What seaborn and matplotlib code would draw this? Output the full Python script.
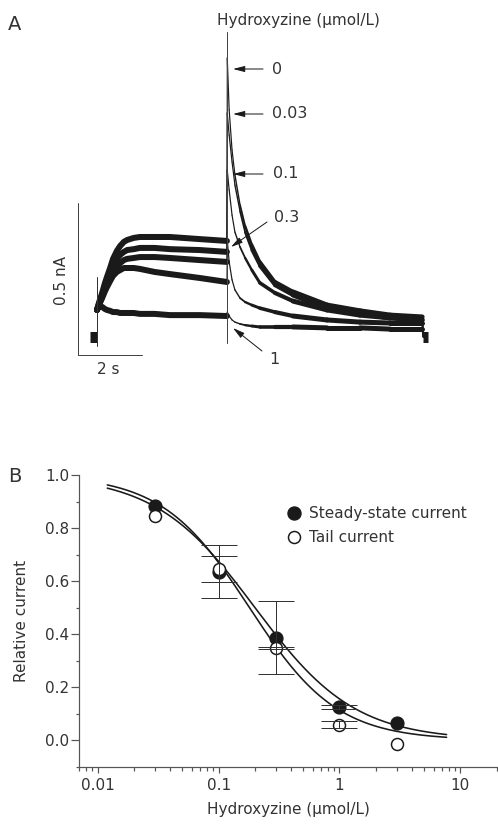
import numpy as np
import pandas as pd
import matplotlib
matplotlib.use("Agg")
import matplotlib.pyplot as plt
import seaborn as sns
from matplotlib.lines import Line2D
from matplotlib.ticker import MultipleLocator, FixedLocator, LogLocator, NullFormatter

sns.set_theme(style="ticks")
plt.rcParams['font.family'] = ['DejaVu Sans']

W, H = 498, 824
INK = "#1a1a1a"
TXT = "#333333"

# --- panel A: current traces (time in s from step onset, current in nA) ---
concs_a = ["0", "0.03", "0.1", "0.3", "1"]
step_t = [0, 0.06, 0.16, 0.25, 0.31, 0.41, 0.5, 0.62, 0.72, 0.84, 0.94, 1.15, 1.34, 1.8, 2.28, 3.22, 4.06]
step_i = {
    "0":    [0.089, 0.112, 0.145, 0.178, 0.197, 0.227, 0.257, 0.283, 0.299, 0.313, 0.319,
             0.326, 0.329, 0.329, 0.329, 0.322, 0.316],
    "0.03": [0.089, 0.109, 0.138, 0.164, 0.184, 0.211, 0.234, 0.257, 0.270, 0.280, 0.286,
             0.289, 0.293, 0.293, 0.289, 0.286, 0.280],
    "0.1":  [0.089, 0.105, 0.132, 0.155, 0.171, 0.191, 0.211, 0.230, 0.243, 0.253, 0.257,
             0.260, 0.263, 0.263, 0.260, 0.253, 0.247],
    "0.3":  [0.089, 0.105, 0.128, 0.151, 0.164, 0.184, 0.201, 0.214, 0.220, 0.227, 0.227,
             0.227, 0.224, 0.214, 0.207, 0.194, 0.181],
    "1":    [0.089, 0.102, 0.099, 0.092, 0.089, 0.086, 0.082, 0.082, 0.079, 0.079, 0.079,
             0.079, 0.076, 0.076, 0.072, 0.072, 0.069],
}
tail_t = [4.07, 4.13, 4.22, 4.31, 4.47, 4.63, 4.84, 5.09, 5.56, 6.13, 7.19, 8.22, 9.16, 10.16]
tail_i = {
    "0":    [0.918, 0.747, 0.615, 0.533, 0.434, 0.365, 0.303, 0.247, 0.181, 0.148, 0.105, 0.086, 0.072, 0.066],
    "0.03": [0.737, 0.664, 0.576, 0.500, 0.414, 0.345, 0.286, 0.234, 0.171, 0.138, 0.095, 0.076, 0.063, 0.056],
    "0.1":  [0.549, 0.484, 0.401, 0.345, 0.296, 0.260, 0.220, 0.178, 0.145, 0.118, 0.089, 0.072, 0.063, 0.056],
    "0.3":  [0.319, 0.247, 0.188, 0.155, 0.128, 0.115, 0.105, 0.095, 0.082, 0.069, 0.056, 0.049, 0.046, 0.046],
    "1":    [0.082, 0.069, 0.056, 0.049, 0.043, 0.039, 0.036, 0.033, 0.033, 0.033, 0.030, 0.030, 0.026, 0.026],
}
hold_t = [-0.22, 0.0]
end_t = [10.20, 10.34]
onset_spike = (-0.03, 0.197)      # nA, capacitive transient at step onset
tail_spike = (-0.02, 1.003)
scale_t, scale_i = 2, 0.5
scale_corner = (-0.59, -0.059)

# --- panel B: concentration-response ---
conc = [0.03, 0.1, 0.3, 1, 3]
steady = [0.883, 0.635, 0.387, 0.126, 0.063]
steady_err = [0, 0.10, 0.137, 0.007, 0]
tail = [0.847, 0.645, 0.348, 0.059, -0.013]
tail_err = [0, 0.05, 0.004, 0.014, 0]
fit_range = (0.012, 7.7)
steady_fit = (0.20, 1.05)   # IC50, Hill coefficient
tail_fit = (0.18, 1.20)


def fpx(x, y):
    return x / W, 1 - y / H


def pt(px):
    return px * 0.72


fig = plt.figure(figsize=(W / 100, H / 100), dpi=100)

# ================= A =================
axa = fig.add_axes([0, 1 - 400 / H, 1, 400 / H])
axa.set_xlim(-97 / 32, (W - 97) / 32)
axa.set_ylim((337 - 400) / 304, 337 / 304)
axa.axis("off")

steps = pd.concat([pd.DataFrame({"t": step_t, "I": step_i[c], "conc": c}) for c in concs_a])
sns.lineplot(data=steps, x="t", y="I", units="conc", estimator=None, sort=False,
             color=INK, lw=pt(6), ax=axa, legend=False, solid_capstyle="round")

tail_lw = [1.2, 1.2, 1.2, 1.4, 1.8, 2.4, 3, 3.6, 4.2, 5, 5, 5, 5]
for c in concs_a:
    # jump from step end to tail peak
    axa.plot([step_t[-1], tail_t[0]], [step_i[c][-1], tail_i[c][0]], color=INK, lw=pt(1))
    for k in range(len(tail_t) - 1):
        axa.plot(tail_t[k:k + 2], tail_i[c][k:k + 2], color=INK, lw=pt(tail_lw[k]),
                 solid_capstyle="round")
    axa.plot([tail_t[-1], end_t[0]], [tail_i[c][-1], 0], color=INK, lw=pt(1.5))

axa.plot(hold_t, [0, 0], color=INK, lw=pt(11), solid_capstyle="butt")
axa.plot(end_t, [0, 0], color=INK, lw=pt(11), solid_capstyle="butt")
axa.plot([0, 0], list(onset_spike), color="#333333", lw=pt(1))
axa.plot([tail_t[0], tail_t[0]], list(tail_spike), color="#444444", lw=pt(1))

# scale bars
cx, cy = scale_corner
axa.plot([cx, cx, cx + scale_t], [cy + scale_i, cy, cy], color="#444444", lw=pt(1))

fig.text(*fpx(15, 25), "A", fontsize=14, color=TXT, ha="center", va="center")
fig.text(*fpx(298, 20), "Hydroxyzine (μmol/L)", fontsize=11, color=TXT, ha="center", va="center")
fig.text(*fpx(62, 280), "0.5 nA", fontsize=11, color=TXT, ha="center", va="center", rotation=90)
fig.text(*fpx(108, 370), "2 s", fontsize=11, color=TXT, ha="center", va="center")

labels_a = [("0", (272, 69), (263, 69), (233, 69)),
            ("0.03", (272, 114), (263, 114), (233, 114)),
            ("0.1", (273, 174), (263, 174), (233, 174)),
            ("0.3", (274, 218), (267, 222), (231, 247)),
            ("1", (269, 360), (262, 351), (233, 328))]
for txt, tpos, a0, a1 in labels_a:
    fig.text(*fpx(*tpos), txt, fontsize=11.5, color=TXT, ha="left", va="center")
    axa.annotate("", xy=fpx(*a1), xytext=fpx(*a0), xycoords="figure fraction",
                 textcoords="figure fraction",
                 arrowprops=dict(arrowstyle="-|>,head_length=0.7,head_width=0.18",
                                 color=INK, lw=pt(1), mutation_scale=10, shrinkA=0, shrinkB=0))

# ================= B =================
axb = fig.add_axes([79 / W, (H - 766.7) / H, (W - 79) / W, (766.7 - 475) / H])
axb.set_xscale("log")
axb.set_xlim(0.007, 20.5)
axb.set_ylim(-0.1, 1.0)

xs = np.logspace(np.log10(fit_range[0]), np.log10(fit_range[1]), 300)
fits = pd.concat([
    pd.DataFrame({"x": xs, "y": 1 / (1 + (xs / k) ** n), "kind": name})
    for name, (k, n) in [("steady", steady_fit), ("tail", tail_fit)]
])
sns.lineplot(data=fits, x="x", y="y", units="kind", estimator=None, color=INK,
             lw=pt(1.6), ax=axb, legend=False, zorder=2)

conc_a = np.array(conc)
for vals, errs in [(steady, steady_err), (tail, tail_err)]:
    v, e = np.array(vals), np.array(errs)
    m = e > 0
    axb.errorbar(conc_a[m], v[m], yerr=e[m], fmt="none", ecolor="#333333",
                 elinewidth=pt(1), capsize=pt(18), capthick=pt(1), zorder=5)

sns.scatterplot(x=conc, y=steady, ax=axb, s=pt(13) ** 2, color=INK, edgecolor=INK,
                linewidth=pt(1.2), zorder=3, legend=False)
sns.scatterplot(x=conc, y=tail, ax=axb, s=pt(12) ** 2, facecolor="white", edgecolor=INK,
                linewidth=pt(1.5), zorder=4, legend=False)

for s in ["top", "right"]:
    axb.spines[s].set_visible(False)
for s in ["left", "bottom"]:
    axb.spines[s].set_color("#555555")
    axb.spines[s].set_linewidth(pt(1.2))

axb.yaxis.set_major_locator(FixedLocator([0, 0.2, 0.4, 0.6, 0.8, 1.0]))
axb.set_yticklabels(["0.0", "0.2", "0.4", "0.6", "0.8", "1.0"])
axb.yaxis.set_minor_locator(MultipleLocator(0.1))
axb.xaxis.set_major_locator(FixedLocator([0.01, 0.1, 1, 10]))
axb.set_xticklabels(["0.01", "0.1", "1", "10"])
axb.xaxis.set_minor_locator(LogLocator(base=10, subs=np.arange(2, 10)))
axb.xaxis.set_minor_formatter(NullFormatter())

axb.tick_params(axis="both", which="both", direction="out", color="#555555",
                width=pt(1.2), labelcolor=TXT, labelsize=11,
                left=True, bottom=True)
axb.tick_params(axis="y", which="major", length=pt(8), pad=pt(2))
axb.tick_params(axis="y", which="minor", length=pt(3.5))
axb.tick_params(axis="x", which="major", length=pt(6), pad=pt(5))
axb.tick_params(axis="x", which="minor", length=pt(4))

axb.set_xlabel("Hydroxyzine (μmol/L)", fontsize=11, color=TXT, labelpad=pt(9))
axb.set_ylabel("Relative current", fontsize=11, color=TXT, labelpad=pt(16))

handles = [Line2D([], [], ls="", marker="o", ms=pt(13), mfc=INK, mec=INK),
           Line2D([], [], ls="", marker="o", ms=pt(12), mfc="white", mec=INK, mew=pt(1.5))]
axb.legend(handles, ["Steady-state current", "Tail current"], loc="upper left",
           bbox_to_anchor=fpx(286, 506), bbox_transform=fig.transFigure, frameon=False,
           borderpad=0, borderaxespad=0, handlelength=1, handletextpad=0.5,
           labelspacing=0.6, fontsize=11, labelcolor=TXT)

fig.text(*fpx(15, 477), "B", fontsize=14, color=TXT, ha="center", va="center")

fig.savefig("out.png", dpi=100)
